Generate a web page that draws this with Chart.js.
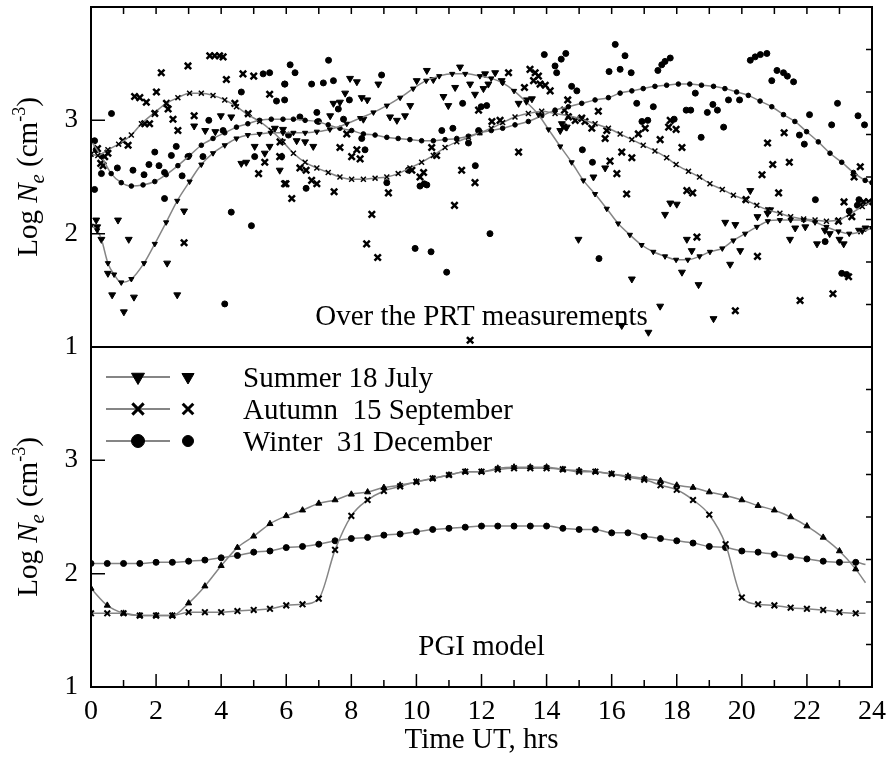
<!DOCTYPE html>
<html>
<head>
<meta charset="utf-8">
<script src="https://cdn.jsdelivr.net/npm/chart.js@4.4.1/dist/chart.umd.min.js"></script>
<style>
  html, body { margin: 0; padding: 0; background: #fff; }
  canvas { display: block; }
</style>
</head>
<body>
<canvas id="ne-chart" width="887" height="758"></canvas>
<script>
// --- top panel: fitted curves over the PRT measurements [hour, log Ne]
const summerFit = [[0,2.07],[0.19,2.03],[0.32,1.95],[0.52,1.74],[0.71,1.64],[0.93,1.57],[1.24,1.60],[1.63,1.74],[1.96,1.91],[2.31,2.10],[2.65,2.29],[3.03,2.46],[3.39,2.61],[3.75,2.71],[4.11,2.78],[4.47,2.84],[4.82,2.87],[5.18,2.88],[5.52,2.89],[5.9,2.89],[6.22,2.89],[6.58,2.89],[6.94,2.90],[7.34,2.92],[7.86,2.97],[8.27,3.02],[8.68,3.07],[9.09,3.13],[9.5,3.20],[9.9,3.28],[10.3,3.35],[10.7,3.39],[11.1,3.41],[11.5,3.41],[11.95,3.39],[12.3,3.37],[12.65,3.33],[13.0,3.26],[13.38,3.16],[13.75,3.05],[14.06,2.92],[14.42,2.77],[14.77,2.63],[15.13,2.47],[15.49,2.35],[15.85,2.22],[16.2,2.09],[16.56,1.99],[16.92,1.90],[17.28,1.84],[17.64,1.80],[17.98,1.77],[18.34,1.77],[18.7,1.80],[19.02,1.84],[19.4,1.87],[19.74,1.94],[20.1,2.00],[20.46,2.06],[20.8,2.11],[21.17,2.12],[21.5,2.12],[21.9,2.12],[22.25,2.10],[22.6,2.06],[22.97,2.02],[23.3,2.00],[23.7,2.02],[24,2.05]];
const autumnFit = [[0,2.70],[0.21,2.69],[0.52,2.74],[0.85,2.79],[1.24,2.87],[1.55,2.97],[1.96,3.07],[2.31,3.15],[2.67,3.20],[3.03,3.24],[3.39,3.24],[3.75,3.22],[4.11,3.18],[4.47,3.12],[4.82,3.05],[5.18,2.99],[5.54,2.91],[5.9,2.81],[6.22,2.71],[6.58,2.63],[6.94,2.58],[7.29,2.54],[7.65,2.50],[8.01,2.48],[8.37,2.48],[8.73,2.49],[9.09,2.50],[9.44,2.53],[9.8,2.58],[10.16,2.63],[10.52,2.69],[10.88,2.76],[11.24,2.81],[11.6,2.85],[11.95,2.89],[12.3,2.93],[12.65,2.98],[13.03,3.03],[13.44,3.06],[13.85,3.08],[14.26,3.06],[14.67,3.04],[15.08,3.01],[15.49,2.97],[15.9,2.93],[16.26,2.88],[16.62,2.83],[16.97,2.78],[17.33,2.73],[17.69,2.67],[17.98,2.61],[18.36,2.55],[18.7,2.50],[19.02,2.44],[19.4,2.39],[19.74,2.34],[20.1,2.30],[20.46,2.25],[20.8,2.21],[21.17,2.18],[21.5,2.15],[21.9,2.13],[22.25,2.12],[22.6,2.11],[22.97,2.12],[23.3,2.17],[23.7,2.24],[24,2.28]];
const winterFit = [[0,2.82],[0.32,2.68],[0.62,2.53],[0.93,2.45],[1.24,2.42],[1.6,2.43],[1.96,2.46],[2.31,2.52],[2.67,2.60],[3.03,2.69],[3.39,2.78],[3.75,2.84],[4.11,2.89],[4.47,2.94],[4.82,2.97],[5.18,3.00],[5.54,3.01],[5.9,3.01],[6.22,3.01],[6.58,3.00],[6.94,2.99],[7.29,2.96],[7.65,2.93],[8.01,2.91],[8.37,2.88],[8.73,2.87],[9.09,2.85],[9.44,2.84],[9.8,2.83],[10.16,2.82],[10.52,2.82],[10.88,2.83],[11.24,2.84],[11.6,2.86],[11.95,2.89],[12.3,2.91],[12.65,2.93],[13.03,2.96],[13.44,2.99],[13.85,3.04],[14.26,3.09],[14.67,3.12],[15.08,3.15],[15.49,3.18],[15.9,3.20],[16.26,3.24],[16.62,3.26],[16.97,3.28],[17.33,3.30],[17.69,3.31],[18.05,3.32],[18.4,3.32],[18.76,3.31],[19.13,3.30],[19.48,3.28],[19.84,3.25],[20.2,3.22],[20.56,3.17],[20.92,3.12],[21.28,3.05],[21.63,2.99],[21.99,2.90],[22.35,2.81],[22.71,2.71],[23.07,2.63],[23.43,2.54],[23.79,2.47],[24,2.45]];

// --- top panel: PRT measurements [hour, log Ne]
const summerObs = [[0.16,2.12],[0.19,2.06],[0.83,2.12],[0.32,1.95],[1.16,1.95],[0.52,1.65],[0.65,1.46],[1.32,1.44],[1.01,1.31],[2.65,1.46],[2.34,1.74],[2.86,2.20],[3.17,2.95],[3.51,2.91],[3.82,2.90],[3.99,3.04],[4.31,3.03],[4.62,2.62],[4.77,2.63],[5.03,2.77],[5.34,2.71],[5.49,2.77],[5.8,2.56],[5.65,2.93],[5.9,2.92],
  [7.96,3.37],[8.17,3.34],[7.81,3.24],[8.32,3.20],[8.49,3.18],[8.83,3.32],[7.45,3.15],[7.65,3.16],[10.32,3.44],[10.01,3.35],[10.52,3.36],[10.83,3.21],[10.98,3.13],[11.19,3.29],[11.65,3.32],[11.8,3.23],[11.34,3.47],[9.19,3.03],[9.4,3.00],[9.81,3.13],[9.65,3.04],[6.83,2.77],[6.32,2.82],[6.58,2.81],[7.35,3.04],[8.37,3.01],
  [12.11,3.41],[12.42,3.42],[12.62,3.35],[12.06,3.28],[12.21,3.32],[13.14,3.15],[13.39,3.18],[13.55,3.19],[14.47,2.97],[14.62,2.94],[14.42,2.91],[15.44,2.50],[15.8,2.58],[14.98,1.95],[16.62,1.60],[17.49,1.36],[17.13,1.13],[16.31,1.19],[17.8,2.27],[17.64,2.17],
  [18.0,2.26],[18.31,1.95],[18.46,1.85],[18.16,1.66],[18.67,1.55],[19.49,2.10],[19.8,2.08],[19.64,1.73],[19.95,1.85],[19.13,1.25],[20.26,2.38],[20.48,2.15],[21.48,1.95],[21.64,2.05],[21.95,2.06],[22.31,1.91],[23.13,1.91],[20.79,2.18],[20.87,2.21],[23.6,2.03],[23.8,2.05],[22.55,2.03],[22.7,2.00],[23.0,1.95]];
const autumnObs = [[3.65,3.57],[3.8,3.57],[3.95,3.57],[4.06,3.56],[2.98,3.48],[2.16,3.42],[4.16,3.36],[4.67,3.41],[5.0,3.39],[1.34,3.21],[1.5,3.20],[1.7,3.16],[2.01,3.25],[2.32,3.15],[2.37,3.10],[3.17,3.04],[2.52,3.01],[2.67,2.91],[4.42,3.15],[5.49,3.23],[0.52,2.71],[0.98,2.82],[1.14,2.78],[0.37,2.60],[0.42,2.68],[5.34,2.63],[5.8,2.68],[5.15,2.53],[5.95,2.44],[2.86,1.92],[1.65,2.97],[1.8,2.97],[4.83,3.06],[1.96,3.06],[0.2,2.75],[0.3,2.62],
  [5.81,2.81],[6.17,2.31],[5.99,2.44],[6.61,2.56],[6.42,2.58],[6.78,2.47],[6.94,2.44],[7.47,2.37],[7.65,2.76],[8.01,2.68],[8.27,2.66],[8.17,2.74],[8.63,2.17],[8.47,1.91],[8.81,1.79],[9.14,2.36],[10.11,2.50],[10.22,2.54],[10.47,2.76],[10.62,2.69],[11.17,2.25],[11.39,2.56],[11.8,2.45],[11.65,1.06],[7.86,2.88],[9.86,2.56],
  [13.49,3.45],[13.65,3.42],[13.75,3.39],[13.6,3.35],[13.8,3.32],[12.83,3.42],[13.32,3.29],[13.96,3.31],[14.11,3.26],[13.14,2.72],[14.65,3.18],[14.55,3.09],[14.67,3.03],[15.18,2.99],[15.39,2.93],[15.59,3.08],[15.8,2.84],[15.85,2.91],[15.95,2.64],[16.16,2.53],[16.31,2.72],[16.62,2.67],[16.46,2.35],[16.82,2.88],[17.03,2.93],[17.49,2.83],[17.8,3.00],[17.75,2.94],[14.88,3.00],[15.08,3.02],[14.52,2.94],[12.32,2.99],[12.57,3.00],[11.91,3.09],
  [17.98,2.92],[18.16,2.76],[18.31,2.38],[18.49,2.36],[18.62,1.97],[20.48,1.80],[19.8,1.32],[20.79,2.80],[20.62,2.52],[20.95,2.61],[21.3,2.89],[21.46,2.63],[21.13,2.36],[20.13,2.30],[21.79,1.41],[22.8,1.47],[23.28,1.62],[23.64,2.59],[23.45,2.50],[23.14,2.28],[22.97,2.11],[23.38,2.15],[23.74,2.28],[23.9,2.28]];
const winterObs = [[0.63,3.06],[5.29,3.41],[5.49,3.42],[5.95,3.32],[4.62,3.25],[5.95,3.18],[5.7,3.17],[3.62,3.00],[4.06,2.91],[1.96,2.72],[2.47,2.69],[2.62,2.77],[1.78,2.61],[2.09,2.60],[1.29,2.56],[0.81,2.58],[0.32,2.53],[0.11,2.39],[1.63,2.52],[2.26,2.54],[2.8,2.51],[2.26,2.31],[2.98,2.68],[3.44,2.68],[4.31,2.19],[4.93,2.07],[4.11,1.38],[5.03,2.68],[0.11,2.82],[0.16,2.74],
  [6.12,3.49],[6.27,3.42],[7.3,3.53],[5.96,3.32],[6.78,3.32],[7.14,3.33],[7.45,3.35],[8.93,3.40],[7.94,3.18],[7.6,3.10],[6.94,3.07],[6.99,2.99],[6.42,3.03],[6.07,2.87],[7.76,3.01],[8.42,2.74],[8.32,2.84],[6.61,2.40],[5.86,2.68],[9.96,1.87],[10.45,1.84],[10.93,1.66],[10.78,2.91],[11.12,2.93],[11.42,3.15],[11.6,2.80],[11.81,2.60],[10.24,2.44],[10.32,2.43],[10.11,2.42],[9.09,2.45],[9.75,2.56],
  [13.93,3.58],[14.26,3.48],[14.31,3.42],[14.59,3.59],[14.45,3.54],[16.11,3.67],[16.41,3.57],[16.26,3.45],[15.92,3.43],[16.6,3.42],[17.42,3.44],[17.54,3.49],[17.64,3.52],[17.8,3.55],[14.77,3.30],[14.93,3.26],[16.77,3.15],[17.28,3.12],[16.93,2.99],[17.11,3.00],[15.1,2.74],[15.41,2.63],[12.26,2.00],[15.61,1.78],[11.99,3.12],[12.16,3.13],[11.91,2.91],
  [20.26,3.53],[20.41,3.56],[20.57,3.58],[20.77,3.59],[21.08,3.44],[21.28,3.42],[21.4,3.39],[21.59,3.34],[20.92,3.35],[18.57,3.24],[19.44,2.94],[18.29,3.09],[18.43,3.09],[17.92,3.01],[18.94,3.07],[19.11,3.14],[19.25,3.09],[19.59,3.18],[19.93,3.18],[18.75,2.85],[21.77,2.87],[21.92,2.79],[22.08,3.05],[22.76,2.96],[22.94,3.15],[23.57,3.04],[23.77,2.96],[22.26,2.30],[22.56,1.93],[23.07,1.65],[23.22,1.64],[23.55,2.25],[23.3,2.20],[23.6,2.30]];

// --- bottom panel: PGI model (last hour has no marker, only the line)
const modelHours = [0,0.5,1,1.5,2,2.5,3,3.5,4,4.5,5,5.5,6,6.5,7,7.5,8,8.5,9,9.5,10,10.5,11,11.5,12,12.5,13,13.5,14,14.5,15,15.5,16,16.5,17,17.5,18,18.5,19,19.5,20,20.5,21,21.5,22,22.5,23,23.5,23.8];
const modelSummer = [1.87,1.72,1.65,1.63,1.63,1.63,1.74,1.89,2.07,2.23, 2.33,2.44,2.51,2.56,2.62,2.65,2.70,2.72,2.76,2.78, 2.81,2.84,2.87,2.90,2.90,2.93,2.94,2.94,2.94,2.92, 2.91,2.90,2.88,2.86,2.84,2.82,2.78,2.76,2.72,2.69, 2.65,2.60,2.56,2.50,2.42,2.32,2.20,2.04,1.92];
const modelAutumn = [1.65,1.65,1.65,1.63,1.63,1.63,1.66,1.66,1.66,1.67, 1.68,1.69,1.72,1.73,1.78,2.21,2.51,2.65,2.73,2.77, 2.81,2.84,2.87,2.90,2.90,2.92,2.93,2.93,2.93,2.92, 2.90,2.90,2.88,2.85,2.83,2.78,2.74,2.65,2.52,2.26, 1.79,1.73,1.72,1.70,1.69,1.68,1.66,1.65,1.65];
const modelWinter = [2.09,2.09,2.09,2.09,2.10,2.10,2.11,2.12,2.14,2.16, 2.19,2.20,2.23,2.24,2.26,2.29,2.31,2.32,2.34,2.35, 2.37,2.39,2.40,2.41,2.42,2.42,2.42,2.42,2.42,2.40, 2.39,2.39,2.36,2.36,2.33,2.31,2.29,2.27,2.24,2.23, 2.20,2.19,2.17,2.15,2.13,2.11,2.10,2.10,2.08];

const seasonLabels = ['Summer 18 July', 'Autumn  15 September', 'Winter  31 December'];
const yTickLabels = ['1', '2', '3'];
const panelLabels = ['Over the PRT measurements', 'PGI model'];

const SERIF = '"Liberation Serif", "Times New Roman", serif';
const GRAY = '#858585';
Chart.defaults.font.family = SERIF;
Chart.defaults.color = '#000';

const toPts = arr => arr.map(p => ({ x: p[0], y: p[1] }));
const modelPts = vals => modelHours.map((h, i) => ({ x: h, y: vals[i] }));
const lastHour = modelHours[modelHours.length - 1];

function fitSet(data, style, r, rot, bw) {
  return {
    data, yAxisID: 'yTop', showLine: true, borderColor: GRAY, borderWidth: 1.5,
    cubicInterpolationMode: 'monotone',
    pointStyle: style, pointRadius: r, pointRotation: rot, pointBorderWidth: bw,
    pointBackgroundColor: '#000', pointBorderColor: '#000'
  };
}
function obsSet(data, style, r, rot, bw) {
  return {
    data, yAxisID: 'yTop', showLine: false,
    pointStyle: style, pointRadius: r, pointRotation: rot, pointBorderWidth: bw,
    pointBackgroundColor: '#000', pointBorderColor: '#000'
  };
}
function modelSet(data, style, r, bw) {
  return {
    data, yAxisID: 'yBot', showLine: true, borderColor: GRAY, borderWidth: 1.5,
    cubicInterpolationMode: 'monotone',
    pointStyle: style, pointRadius: c => (c.raw && c.raw.x === lastHour ? 0 : r), pointBorderWidth: bw,
    pointBackgroundColor: '#000', pointBorderColor: '#000'
  };
}

const datasets = [
  fitSet(toPts(summerFit), 'triangle', 3, 180, 1),
  fitSet(toPts(autumnFit), 'crossRot', 3.5, 0, 1.5),
  fitSet(toPts(winterFit), 'circle', 2.3, 0, 1),
  modelSet(modelPts(modelSummer), 'triangle', 3.5, 1),
  modelSet(modelPts(modelAutumn), 'crossRot', 4, 2),
  modelSet(modelPts(modelWinter), 'circle', 3, 1),
  obsSet(toPts(summerObs), 'triangle', 4, 180, 1),
  obsSet(toPts(autumnObs), 'crossRot', 4.5, 0, 2.5),
  obsSet(toPts(winterObs), 'circle', 3, 0, 1)
];

// rich text "Log Ne (cm-3)", rotated
function drawYTitle(ctx, cx, cy) {
  const parts = [
    { t: 'Log ', f: '29px ' + SERIF, dy: 0 },
    { t: 'N', f: 'italic 29px ' + SERIF, dy: 0 },
    { t: 'e', f: 'italic 21px ' + SERIF, dy: 7 },
    { t: ' (cm', f: '29px ' + SERIF, dy: 0 },
    { t: '-3', f: '18px ' + SERIF, dy: -12 },
    { t: ')', f: '29px ' + SERIF, dy: 0 }
  ];
  ctx.save();
  ctx.translate(cx, cy);
  ctx.rotate(-Math.PI / 2);
  let w = 0;
  parts.forEach(p => { ctx.font = p.f; w += ctx.measureText(p.t).width; });
  let x = -w / 2;
  ctx.textBaseline = 'alphabetic';
  ctx.fillStyle = '#000';
  parts.forEach(p => { ctx.font = p.f; ctx.fillText(p.t, x, 10 + p.dy); x += ctx.measureText(p.t).width; });
  ctx.restore();
}

const legendMarks = [
  { s: 'triangle', rot: 180, r: 7.5, r2: 7, bw: 1 },
  { s: 'crossRot', rot: 0, r: 8, r2: 7.5, bw: 3 },
  { s: 'circle', rot: 0, r: 6.5, r2: 5.5, bw: 1 }
];

const framePlugin = {
  id: 'frame',
  afterDraw(chart) {
    const { ctx, chartArea: a, scales } = chart;
    const yT = scales.yTop, yB = scales.yBot, x = scales.x;
    ctx.save();
    ctx.strokeStyle = '#000';
    ctx.lineWidth = 2;
    ctx.strokeRect(a.left, a.top, a.right - a.left, a.bottom - a.top);
    ctx.beginPath();
    ctx.moveTo(a.left, yB.top); ctx.lineTo(a.right, yB.top);
    ctx.stroke();

    // inward ticks
    ctx.lineWidth = 1.5;
    ctx.beginPath();
    [yT, yB].forEach(s => {
      s.ticks.forEach(t => {
        if (t.value <= s.min || t.value >= s.max) return;
        const py = s.getPixelForValue(t.value);
        ctx.moveTo(a.left, py); ctx.lineTo(a.left + (Number.isInteger(t.value) ? 14 : 7), py);
      });
      for (let k = 1; k < 8; k++) {
        const py = s.top + (s.bottom - s.top) * k / 8;
        ctx.moveTo(a.right, py); ctx.lineTo(a.right - 6, py);
      }
    });
    x.ticks.forEach(t => {
      if (t.value <= x.min || t.value >= x.max) return;
      const px = x.getPixelForValue(t.value);
      ctx.moveTo(px, a.bottom); ctx.lineTo(px, a.bottom - (t.value % 2 === 0 ? 13 : 7));
      ctx.moveTo(px, a.top); ctx.lineTo(px, a.top + 7);
    });
    ctx.stroke();

    // axis titles
    drawYTitle(ctx, 27, (yT.top + yT.bottom) / 2);
    drawYTitle(ctx, 27, (yB.top + yB.bottom) / 2);

    // panel labels
    ctx.fillStyle = '#000';
    ctx.font = '29px ' + SERIF;
    ctx.textAlign = 'center';
    ctx.textBaseline = 'alphabetic';
    const cx = (a.left + a.right) / 2;
    ctx.fillText(panelLabels[0], cx, yT.bottom - 22);
    ctx.fillText(panelLabels[1], cx, yB.bottom - 32);

    // legend
    ctx.textAlign = 'left';
    seasonLabels.forEach((lab, i) => {
      const ry = yB.top + 30 + i * 32;
      const m = legendMarks[i];
      ctx.strokeStyle = GRAY; ctx.lineWidth = 2;
      ctx.beginPath(); ctx.moveTo(a.left + 15, ry); ctx.lineTo(a.left + 79, ry); ctx.stroke();
      ctx.fillStyle = '#000'; ctx.strokeStyle = '#000'; ctx.lineWidth = m.bw;
      Chart.helpers.drawPoint(ctx, { pointStyle: m.s, rotation: m.rot, radius: m.r, borderWidth: m.bw }, a.left + 47, ry);
      Chart.helpers.drawPoint(ctx, { pointStyle: m.s, rotation: m.rot, radius: m.r2, borderWidth: m.bw }, a.left + 97, ry);
      ctx.fillStyle = '#000';
      ctx.font = '29px ' + SERIF;
      ctx.fillText(lab, a.left + 152, ry + 10);
    });
    ctx.restore();
  }
};

function yAxis() {
  return {
    type: 'linear', position: 'left', stack: 'ne', stackWeight: 1, min: 1, max: 4,
    grid: { display: false, drawTicks: false }, border: { display: false },
    ticks: {
      stepSize: 0.5, padding: 13, font: { size: 27 },
      callback: v => (yTickLabels.includes(String(v)) ? String(v) : '')
    },
    afterFit: s => { s.width = 91; s.paddingTop = 0; s.paddingBottom = 0; }
  };
}

new Chart(document.getElementById('ne-chart'), {
  type: 'scatter',
  data: { datasets },
  options: {
    responsive: false,
    animation: false,
    layout: { padding: { left: 0, right: 15, top: 7, bottom: 0 } },
    plugins: { legend: { display: false }, tooltip: { enabled: false } },
    scales: {
      yBot: yAxis(),
      yTop: yAxis(),
      x: {
        type: 'linear', position: 'bottom', min: 0, max: 24,
        grid: { display: false, drawTicks: false }, border: { display: false },
        ticks: { stepSize: 1, autoSkip: false, maxRotation: 0, padding: 8, font: { size: 28 },
          callback: v => (v % 2 === 0 ? String(v) : '') },
        title: { display: true, text: 'Time UT, hrs', font: { size: 29 }, padding: { top: 0, bottom: 0 } },
        afterFit: s => { s.height = 71; s.paddingLeft = 0; s.paddingRight = 0; }
      }
    }
  },
  plugins: [framePlugin]
});
</script>
</body>
</html>
